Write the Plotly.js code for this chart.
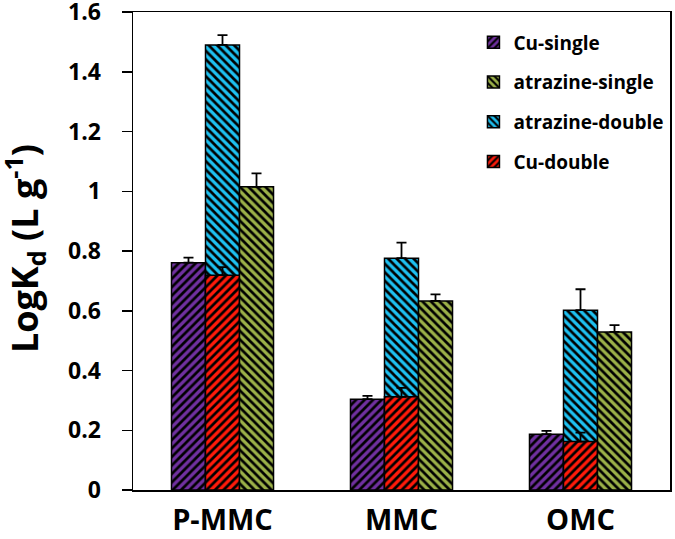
<!DOCTYPE html>
<html>
<head>
<meta charset="utf-8">
<script src="https://cdn.plot.ly/plotly-3.0.1.min.js"></script>
<style>html,body{margin:0;padding:0;background:#fff;}#chart{width:675px;height:539px;}</style>
</head>
<body>
<div id="chart"></div>
<script>
// ---- data ----
const categories = ["P-MMC", "MMC", "OMC"];
const cuSingle = [0.761, 0.304, 0.187];
const cuSingleErr = [0.017, 0.011, 0.011];
const atrazineSingle = [1.015, 0.633, 0.529];
const atrazineSingleErr = [0.045, 0.022, 0.023];
const atrazineDouble = [1.490, 0.776, 0.602];
const atrazineDoubleErr = [0.033, 0.052, 0.070];
const cuDouble = [0.719, 0.312, 0.162];
const cuDoubleErr = [0.027, 0.030, 0.030];
const seriesNames = ["Cu-single", "atrazine-single", "atrazine-double", "Cu-double"];
const yTickVals = [0, 0.2, 0.4, 0.6, 0.8, 1, 1.2, 1.4, 1.6];
const yTickText = ['0', '0.2', '0.4', '0.6', '0.8', '1', '1.2', '1.4', '1.6'];
const yTitle = 'LogK<sub>d</sub> (L g<sup>-1</sup>)';

const FONT = "'Open Sans', 'DejaVu Sans', sans-serif";
const zeros = [0, 0, 0];

function barTrace(name, y, err, color, shape, offset, rank) {
  return {
    type: 'bar',
    name: name,
    x: categories,
    y: y,
    width: 0.19,
    offset: offset,
    legendgroup: name,
    legendrank: rank,
    marker: {
      color: color,
      line: {color: '#000', width: 1.5},
      pattern: {shape: shape, bgcolor: color, fgcolor: '#000', size: 6, solidity: 0.45}
    },
    error_y: {type: 'data', symmetric: false, array: err, arrayminus: zeros,
              color: '#000', thickness: 1.8, width: 5}
  };
}

const traces = [
  barTrace(seriesNames[0], cuSingle, cuSingleErr, '#7030A0', '/', -0.285, 1),
  barTrace(seriesNames[2], atrazineDouble, atrazineDoubleErr, '#1EC0F0', '\\', -0.095, 3),
  barTrace(seriesNames[3], cuDouble, cuDoubleErr, '#FF1A0A', '/', -0.095, 4),
  barTrace(seriesNames[1], atrazineSingle, atrazineSingleErr, '#9BB048', '\\', 0.095, 2)
];

const layout = {
  width: 675, height: 539,
  margin: {l: 133, r: 5, t: 12, b: 49},
  paper_bgcolor: '#fff', plot_bgcolor: '#fff',
  barmode: 'overlay',
  showlegend: true,
  legend: {
    x: 0.634, y: 0.976, xanchor: 'left', yanchor: 'top',
    bgcolor: 'rgba(0,0,0,0)',
    font: {family: FONT, size: 19, color: '#000', weight: 700},
    tracegroupgap: 12,
    traceorder: 'grouped'
  },
  xaxis: {
    type: 'category',
    range: [-0.5, 2.5],
    showline: true, linecolor: '#000', linewidth: 1.5, mirror: true,
    ticks: '', showgrid: false, zeroline: false,
    ticklabelstandoff: 4,
    tickfont: {family: FONT, size: 29, color: '#000', weight: 700}
  },
  yaxis: {
    range: [0, 1.6001],
    tickvals: yTickVals,
    ticktext: yTickText,
    ticklabeloverflow: 'allow',
    showline: true, linecolor: '#000', linewidth: 1.5, mirror: true,
    ticks: 'outside', ticklen: 10, tickwidth: 1.5, tickcolor: '#000',
    ticklabelstandoff: 16,
    showgrid: false, zeroline: false,
    tickfont: {family: FONT, size: 23, color: '#000', weight: 700}
  },
  annotations: [{
    text: yTitle, xref: 'paper', yref: 'paper',
    x: -0.203, y: 0.506, xanchor: 'center', yanchor: 'middle',
    textangle: -90, showarrow: false,
    font: {family: FONT, size: 36, color: '#000', weight: 700}
  }]
};

Plotly.newPlot('chart', traces, layout, {displayModeBar: false, staticPlot: true});
</script>
</body>
</html>
